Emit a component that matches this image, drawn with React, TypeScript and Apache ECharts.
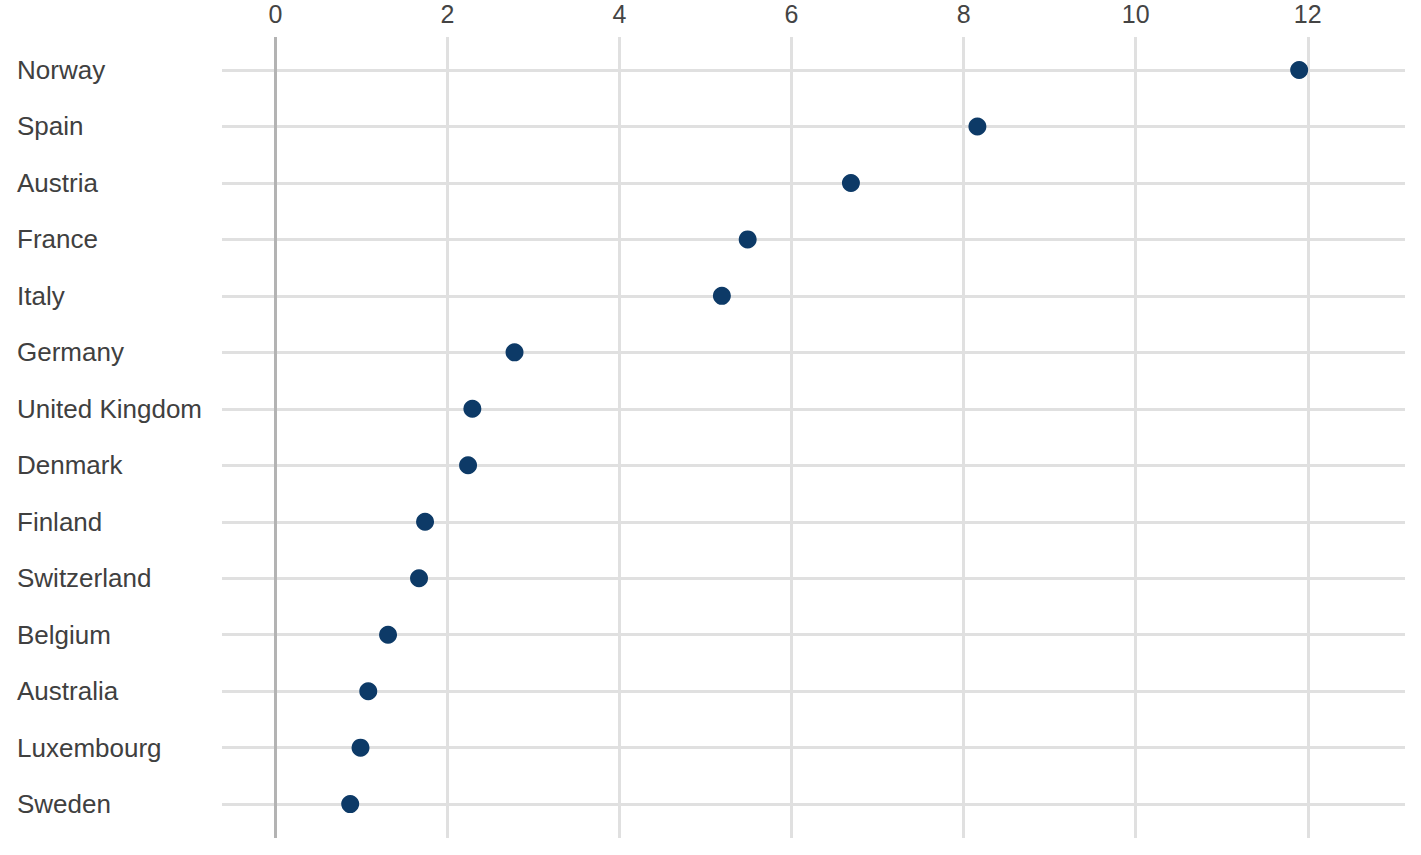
import React, { useEffect, useRef } from "react";
import * as echarts from "echarts";

const countries = [
  "Norway", "Spain", "Austria", "France", "Italy", "Germany", "United Kingdom",
  "Denmark", "Finland", "Switzerland", "Belgium", "Australia", "Luxembourg", "Sweden",
];
const values = [11.9, 8.16, 6.69, 5.49, 5.19, 2.78, 2.29, 2.24, 1.74, 1.67, 1.31, 1.08, 0.99, 0.87];
const xTicks = [0, 2, 4, 6, 8, 10, 12];

export default function App() {
  const ref = useRef<HTMLDivElement>(null);
  useEffect(() => {
    const chart = echarts.init(ref.current!, null, { renderer: "svg" });
    const rowIdx = countries.map((_, i) => i);
    const lineColor = "#e0e0e0";
    chart.setOption({
      animation: false,
      backgroundColor: "#ffffff",
      grid: { left: 222, right: 16, top: 37, bottom: 17, containLabel: false },
      xAxis: {
        type: "value",
        position: "top",
        min: -0.62,
        max: 13.13,
        axisLine: { show: false },
        axisTick: { show: false },
        splitLine: { show: false },
        axisLabel: {
          customValues: xTicks,
          fontFamily: "Liberation Sans, Arial, sans-serif",
          fontSize: 25,
          color: "#444444",
          margin: 11,
        },
      },
      yAxis: {
        type: "value",
        inverse: true,
        min: -0.584,
        max: 13.6,
        axisLine: { show: false },
        axisTick: { show: false },
        splitLine: { show: false },
        axisLabel: {
          customValues: rowIdx,
          formatter: (v: number) => countries[Math.round(v)] ?? "",
          align: "left",
          margin: 205,
          fontFamily: "Liberation Sans, Arial, sans-serif",
          fontSize: 26,
          color: "#404040",
          padding: [3, 0, 0, 0],
        },
      },
      series: [
        {
          type: "scatter",
          data: values.map((v, i) => [v, i]),
          symbolSize: 18,
          itemStyle: { color: "#0d3a67", opacity: 1 },
          z: 5,
          markLine: {
            silent: true,
            symbol: "none",
            label: { show: false },
            animation: false,
            data: [
              ...rowIdx.map((i) => ({ yAxis: i, lineStyle: { color: lineColor, width: 3, type: "solid" } })),
              ...xTicks.filter((t) => t !== 0).map((t) => ({ xAxis: t, lineStyle: { color: lineColor, width: 3, type: "solid" } })),
              { xAxis: 0, lineStyle: { color: "#b3b3b3", width: 3, type: "solid" } },
            ],
          },
        },
      ],
    });
    return () => chart.dispose();
  }, []);
  return (
    <div
      ref={ref}
      style={{ position: "fixed", left: 0, top: 0, width: 1421, height: 855 }}
    />
  );
}
